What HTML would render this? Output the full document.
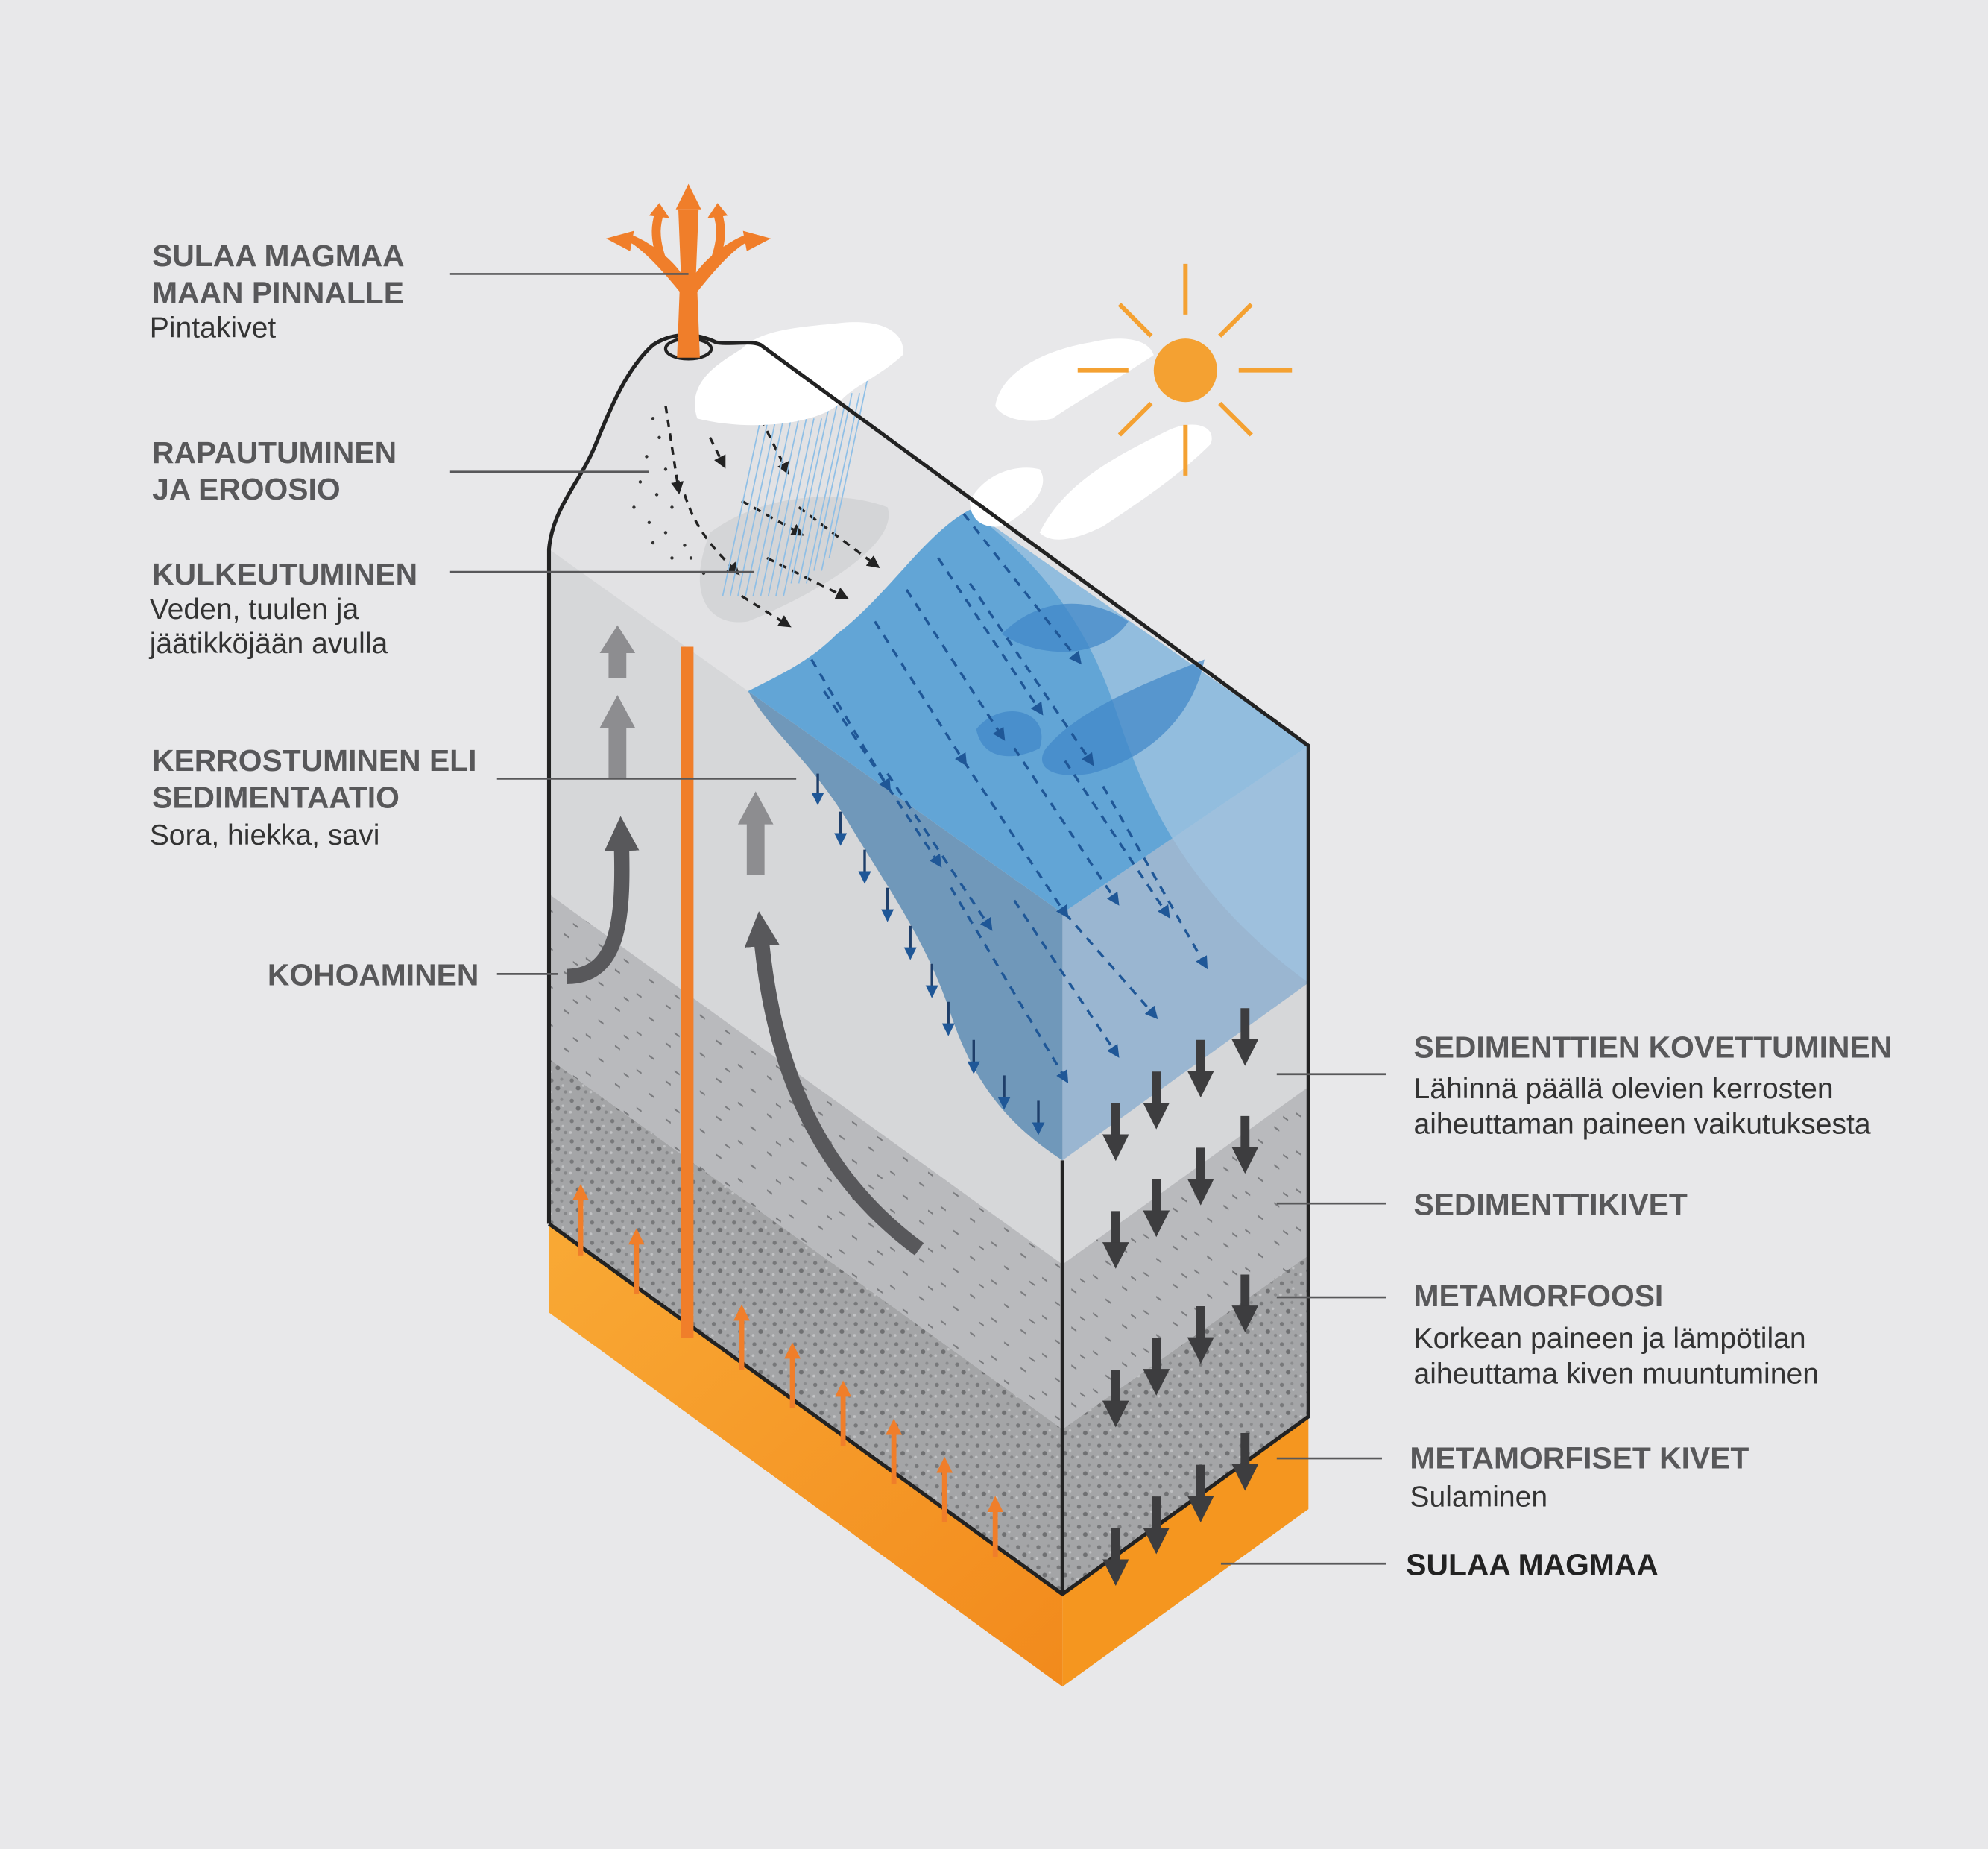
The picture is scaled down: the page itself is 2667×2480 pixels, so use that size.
<!DOCTYPE html>
<html><head><meta charset="utf-8">
<style>
html,body{margin:0;padding:0;background:#e8e8ea;}
svg{display:block;}
text{font-family:"Liberation Sans",Arial,sans-serif;}
.h{font-weight:bold;font-size:24px;fill:#58585a;}
.t{font-size:23px;fill:#333;}
.lead{stroke:#58585a;stroke-width:1.6;fill:none;}
</style></head>
<body>
<svg width="2667" height="2480" viewBox="0 0 1568 1458" xmlns="http://www.w3.org/2000/svg">
<defs>
<linearGradient id="mag" x1="0" y1="0" x2="1" y2="1">
<stop offset="0" stop-color="#f9a935"/><stop offset="1" stop-color="#f28a1c"/></linearGradient>
<pattern id="dots1" width="40" height="30" patternUnits="userSpaceOnUse" patternTransform="skewY(35)">
<rect width="40" height="30" fill="#b9babd"/>
<path d="M5 5h4M22 12h4M12 22h4M32 24h4" stroke="#7a7b7e" stroke-width="1.5"/></pattern>
<pattern id="dots2" width="16" height="16" patternUnits="userSpaceOnUse">
<rect width="16" height="16" fill="#a4a5a7"/>
<circle cx="3" cy="4" r="1.6" fill="#77787a"/><circle cx="11" cy="3" r="1.2" fill="#8b8c8e"/>
<circle cx="8" cy="10" r="1.8" fill="#6f7072"/><circle cx="14" cy="13" r="1.3" fill="#87888a"/>
<circle cx="2" cy="13" r="1.1" fill="#c2c3c5"/><circle cx="12" cy="8" r="1" fill="#c0c1c3"/></pattern>
<marker id="ab" viewBox="0 0 10 10" refX="5" refY="5" markerWidth="3" markerHeight="3" orient="auto"><path d="M0 0L10 5L0 10z" fill="#3d3d3f"/></marker>
<marker id="ao" viewBox="0 0 10 10" refX="5" refY="5" markerWidth="3.2" markerHeight="3.2" orient="auto"><path d="M0 0L10 5L0 10z" fill="#f07e2a"/></marker>
<marker id="ad" viewBox="0 0 10 10" refX="5" refY="5" markerWidth="5" markerHeight="5" orient="auto"><path d="M0 0L10 5L0 10z" fill="#1f5797"/></marker>
<marker id="ak" viewBox="0 0 10 10" refX="5" refY="5" markerWidth="5" markerHeight="5" orient="auto"><path d="M0 0L10 5L0 10z" fill="#222"/></marker>
<marker id="ag" viewBox="0 0 10 10" refX="4" refY="5" markerWidth="2.3" markerHeight="2.3" orient="auto"><path d="M0 0L10 5L0 10z" fill="#58585b"/></marker>
</defs>
<rect width="1568" height="1458" fill="#e8e8ea"/>

<polygon points="433,965 838,1257 838,1330 433,1035" fill="url(#mag)"/>
<polygon points="838,1257 1032,1117 1032,1190 838,1330" fill="#f5961f"/>

<polygon points="433,425 590,545 838,720 838,997 433,705" fill="#d6d7d9"/>
<polygon points="433,705 838,997 838,1127 433,835" fill="url(#dots1)"/>
<polygon points="433,835 838,1127 838,1257 433,965" fill="url(#dots2)"/>
<polygon points="838,720 1032,588 1032,857 838,997" fill="#d6d7d9"/>
<polygon points="838,997 1032,857 1032,990 838,1127" fill="url(#dots1)"/>
<polygon points="838,1127 1032,990 1032,1117 838,1257" fill="url(#dots2)"/>

<path d="M433,433 C436,400 458,380 470,350 C482,320 495,290 515,272 C530,262 548,262 565,270 C580,272 592,268 600,272 L1032,588 L838,720 L590,545 Z" fill="#e2e2e4"/>
<path d="M560,420 C600,390 660,385 700,400 C710,430 640,470 590,490 C560,495 540,470 560,420Z" fill="#cfd0d2" opacity=".7"/>

<polygon points="838,720 1032,588 1032,775 838,915" fill="#8fb0cf" opacity=".85"/>
<path d="M590,545 L838,720 L838,915 C800,890 770,860 750,800 C730,740 700,700 670,650 C640,600 610,580 590,545Z" fill="#5e8db4" opacity=".85"/>
<path d="M590,545 C620,530 640,520 660,500 C700,470 730,420 765,402 L1032,588 L838,720 Z" fill="#62a5d6"/>
<path d="M765,402 C800,430 850,470 880,560 C900,620 930,700 1032,775 L1032,588 Z" fill="#9fc3e0" opacity=".8"/>
<path d="M790,500 C820,470 860,470 890,490 C870,520 820,520 790,500Z M770,575 C790,550 830,560 820,590 C800,600 775,600 770,575Z M825,590 C850,560 900,540 950,520 C940,570 900,600 860,610 C830,615 815,605 825,590Z" fill="#3f86c7" opacity=".7"/>

<g stroke="#1f5797" stroke-width="2" stroke-dasharray="7,6" fill="none" marker-end="url(#ad)">
<path d="M640,520 L700,620"/><path d="M690,490 L760,600"/><path d="M715,465 L790,580"/>
<path d="M740,440 L820,560"/><path d="M765,460 L860,600"/><path d="M760,405 L850,520"/>
<path d="M650,545 L740,680"/><path d="M700,610 L780,730"/><path d="M760,600 L840,720"/>
<path d="M800,590 L880,710"/><path d="M840,600 L920,720"/><path d="M870,620 L950,760"/>
<path d="M750,700 L840,850"/><path d="M800,710 L880,830"/><path d="M840,720 L910,800"/>
</g>
<g stroke="#1f3f6a" stroke-width="2" fill="none" marker-end="url(#ad)">
<path d="M645,610 v20"/><path d="M663,640 v22"/><path d="M682,670 v22"/><path d="M700,700 v22"/>
<path d="M718,730 v22"/><path d="M735,760 v22"/><path d="M748,790 v22"/><path d="M768,820 v22"/><path d="M792,848 v22"/><path d="M819,868 v22"/>
</g>

<g fill="#333">
<circle cx="515" cy="330" r="1.3"/><circle cx="520" cy="345" r="1.3"/><circle cx="510" cy="360" r="1.3"/><circle cx="525" cy="370" r="1.3"/>
<circle cx="505" cy="380" r="1.3"/><circle cx="518" cy="390" r="1.3"/><circle cx="500" cy="400" r="1.3"/><circle cx="530" cy="400" r="1.3"/>
<circle cx="512" cy="412" r="1.3"/><circle cx="525" cy="420" r="1.3"/><circle cx="540" cy="430" r="1.3"/><circle cx="515" cy="428" r="1.3"/>
<circle cx="545" cy="440" r="1.3"/><circle cx="530" cy="440" r="1.3"/><circle cx="555" cy="452" r="1.3"/><circle cx="535" cy="380" r="1.3"/>
</g>
<g stroke="#222" stroke-width="2" stroke-dasharray="6,5" fill="none" marker-end="url(#ak)">
<path d="M525,320 L535,385"/><path d="M540,390 C548,415 560,430 580,450"/>
<path d="M560,345 L570,365"/><path d="M585,395 L630,420"/><path d="M600,330 L620,370"/>
<path d="M630,400 L690,445"/><path d="M605,440 L665,470"/><path d="M585,470 L620,492"/>
</g>
<g stroke="#8fbfe6" stroke-width="1">
<path d="M600,330L570,470M606,330L576,470M612,330L582,470M618,330L588,470M624,330L594,470M630,330L600,470M636,330L606,470M642,330L612,470M648,330L618,470M654,320L624,460M660,320L630,460M666,320L636,460M672,310L642,450M678,310L648,450M684,300L654,440"/>
</g>
<g fill="#fff">
<path d="M550,330 C540,300 570,285 585,275 C600,260 630,258 660,255 C700,250 715,265 712,280 C690,300 670,305 660,320 C640,335 590,340 550,330Z"/>
<path d="M785,320 C790,290 830,275 860,270 C880,265 905,265 910,280 C880,300 860,310 830,330 C810,335 790,330 785,320Z"/>
<path d="M820,420 C840,380 880,360 920,340 C940,330 960,335 955,350 C930,375 900,395 870,415 C850,425 830,430 820,420Z"/>
<path d="M765,395 C775,375 800,365 820,370 C830,385 810,405 790,415 C775,417 765,410 765,395Z"/>
</g>
<circle cx="935" cy="292" r="25" fill="#f4a132"/>
<g stroke="#f4a132" stroke-width="3.5">
<path d="M935,208v40M935,335v40M977,292h42M850,292h40M962,265l25,-25M883,343l25,-25M962,318l25,25M883,240l25,25"/>
</g>

<g stroke="#222" stroke-width="3" fill="none">
<path d="M433,965 L433,433 C436,400 458,380 470,350 C482,320 495,290 515,272 C530,262 548,262 565,270 C580,272 592,268 600,272 L1032,588 L1032,1117 L838,1257 L433,965"/>
<path d="M838,915 L838,1257"/>
</g>

<ellipse cx="543" cy="275" rx="18" ry="8" fill="none" stroke="#222" stroke-width="2.5"/>
<path d="M534,282 L536,230 C520,210 505,195 495,190 L498,185 C515,192 530,205 537,215 L535,165 L551,165 L549,215 C556,205 571,192 588,185 L591,190 C580,195 566,210 550,230 L552,282 Z" fill="#f07e2a"/>
<path d="M543,145 L533,165 L553,165Z M478,188 L500,182 L497,198Z M608,188 L586,182 L589,198Z" fill="#f07e2a"/>
<path d="M522,205 C515,185 518,175 520,168 M564,205 C571,185 568,175 566,168" stroke="#f07e2a" stroke-width="7" fill="none"/>
<path d="M520,160 l-8,10 16,2z M566,160 l8,10 -16,2z" fill="#f07e2a"/>

<rect x="537" y="510" width="10" height="545" fill="#f07e2a"/>

<g fill="#8d8d90">
<path d="M480,535 v-20 h-7 l14,-22 14,22 h-7 v20z"/>
<path d="M480,614 v-40 h-7 l14,-26 14,26 h-7 v40z"/>
<path d="M589,690 v-40 h-7 l14,-26 14,26 h-7 v40z"/>
</g>
<g stroke="#58585b" stroke-width="12" fill="none" marker-end="url(#ag)">
<path d="M447,770 C490,770 492,720 490,660"/>
<path d="M725,985 C650,930 610,850 600,735"/>
</g>

<g stroke="#f07e2a" stroke-width="4" fill="none" marker-end="url(#ao)">
<path d="M458,990 v-50"/><path d="M502,1020 v-45"/><path d="M585,1080 v-45"/><path d="M625,1110 v-45"/>
<path d="M665,1140 v-45"/><path d="M705,1170 v-45"/><path d="M745,1200 v-45"/><path d="M785,1228 v-42"/>
</g>
<g stroke="#3d3d3f" stroke-width="7" fill="none" marker-end="url(#ab)">
<path d="M880,870v35"/><path d="M880,955v35"/><path d="M880,1080v35"/><path d="M880,1205v35"/>
<path d="M912,845v35"/><path d="M912,930v35"/><path d="M912,1055v35"/><path d="M912,1180v35"/>
<path d="M947,820v35"/><path d="M947,905v35"/><path d="M947,1030v35"/><path d="M947,1155v35"/>
<path d="M982,795v35"/><path d="M982,880v35"/><path d="M982,1005v35"/><path d="M982,1130v35"/>
</g>

<text class="h" x="120" y="210">SULAA MAGMAA</text>
<text class="h" x="120" y="239">MAAN PINNALLE</text>
<text class="t" x="118" y="266">Pintakivet</text>
<path class="lead" d="M355,216H543"/>
<text class="h" x="120" y="365">RAPAUTUMINEN</text>
<text class="h" x="120" y="394">JA EROOSIO</text>
<path class="lead" d="M355,372H512"/>
<text class="h" x="120" y="461">KULKEUTUMINEN</text>
<text class="t" x="118" y="488">Veden, tuulen ja</text>
<text class="t" x="118" y="515">jäätikköjään avulla</text>
<path class="lead" d="M355,451H595"/>
<text class="h" x="120" y="608">KERROSTUMINEN ELI</text>
<text class="h" x="120" y="637">SEDIMENTAATIO</text>
<text class="t" x="118" y="666">Sora, hiekka, savi</text>
<path class="lead" d="M392,614H628"/>
<text class="h" x="211" y="777">KOHOAMINEN</text>
<path class="lead" d="M392,768H440"/>

<text class="h" x="1115" y="834">SEDIMENTTIEN KOVETTUMINEN</text>
<text class="t" x="1115" y="866">Lähinnä päällä olevien kerrosten</text>
<text class="t" x="1115" y="894">aiheuttaman paineen vaikutuksesta</text>
<path class="lead" d="M1007,847H1093"/>
<text class="h" x="1115" y="958">SEDIMENTTIKIVET</text>
<path class="lead" d="M1007,949H1093"/>
<text class="h" x="1115" y="1030">METAMORFOOSI</text>
<text class="t" x="1115" y="1063">Korkean paineen ja lämpötilan</text>
<text class="t" x="1115" y="1091">aiheuttama kiven muuntuminen</text>
<path class="lead" d="M1007,1023H1093"/>
<text class="h" x="1112" y="1158">METAMORFISET KIVET</text>
<text class="t" x="1112" y="1188">Sulaminen</text>
<path class="lead" d="M1007,1150H1090"/>
<text class="h" x="1109" y="1242" style="fill:#222">SULAA MAGMAA</text>
<path class="lead" d="M963,1233H1093"/>
</svg>
</body></html>
